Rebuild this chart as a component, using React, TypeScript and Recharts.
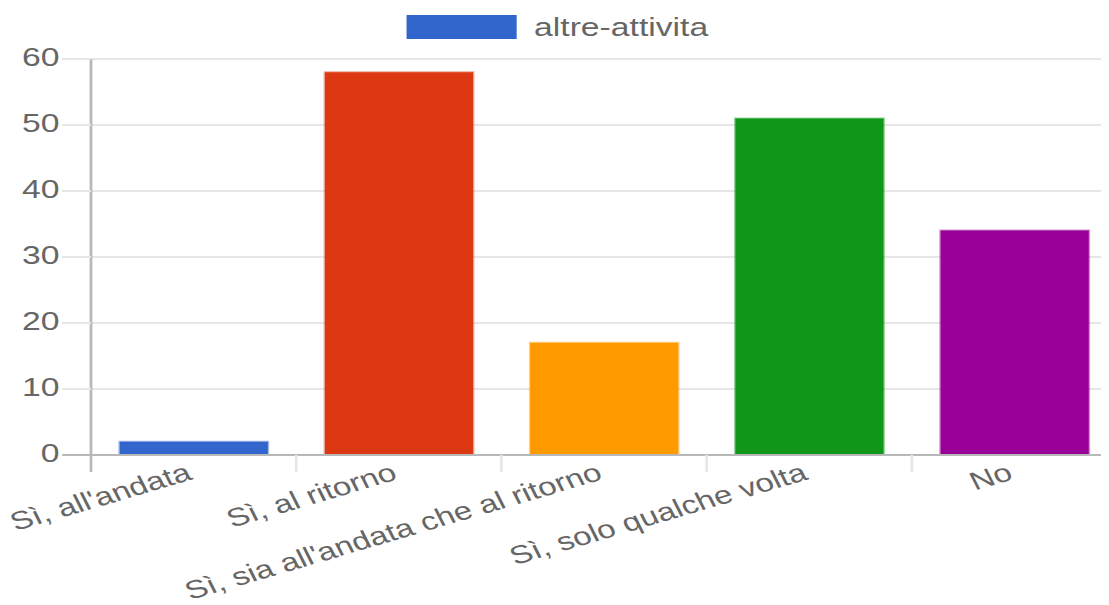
import React from 'react';
import { BarChart, Bar, XAxis, YAxis, CartesianGrid, Legend, Cell } from 'recharts';

const categories = [
  "Sì, all'andata",
  'Sì, al ritorno',
  "Sì, sia all'andata che al ritorno",
  'Sì, solo qualche volta',
  'No',
];
const values = [2, 58, 17, 51, 34];
const barColors = ['#3366cc', '#dc3912', '#ff9900', '#109618', '#990099'];
const yTicks = [0, 10, 20, 30, 40, 50, 60];
const seriesName = 'altre-attivita';
const boundaryTicks = categories.map((_, i) => i).concat([categories.length]);

const data = categories.map((name, i) => ({ name, value: values[i], slot: i + 0.5 }));

const FONT = '"Liberation Sans", Arial, Helvetica, sans-serif';
const TEXT = '#666666';
const LIGHT = '#e6e6e6';
const DARK = '#b8b8b8';
const FS = 25.7;
const XFS = 25.3;
const SX = 1.311;
const ANGLE = -21;

const YTick = (props: any) => {
  const { x, y, payload } = props;
  const dark = payload.value === 0;
  return (
    <g>
      <line x1={x + 2} x2={x + 24} y1={y} y2={y} stroke={dark ? DARK : LIGHT} strokeWidth={2} />
      <text x={x} y={y + 7.5} textAnchor="end" fill={TEXT} fontSize={FS} fontFamily={FONT}>
        {payload.value}
      </text>
    </g>
  );
};

const CatTick = (props: any) => {
  const { x, y, payload, index } = props;
  const off = payload && typeof payload.offset === 'number' ? payload.offset : 0;
  const ty = y + 24;
  return (
    <g>
      {off > 0 && (
        <line x1={x - off} x2={x - off} y1={y} y2={y + 17} stroke={index === 0 ? DARK : LIGHT} strokeWidth={2} />
      )}
      {off > 0 && index === categories.length - 1 && (
        <line x1={x + off} x2={x + off} y1={y} y2={y + 17} stroke={LIGHT} strokeWidth={2} />
      )}
      <text
        x={x}
        y={ty}
        textAnchor="end"
        fill={TEXT}
        fontSize={XFS}
        fontFamily={FONT}
        transform={`rotate(${ANGLE}, ${x}, ${ty})`}
      >
        {payload.value}
      </text>
    </g>
  );
};

const LegendContent = (props: any) => {
  const items = props.payload || [];
  return (
    <div style={{ height: 44, position: 'relative' }}>
      {items.map((it: any, i: number) => (
        <div key={i} style={{ position: 'absolute', left: 303.6, top: 0, display: 'flex', alignItems: 'center', height: 24 }}>
          <div style={{ width: 84.7, height: 24, background: it.color }} />
          <span style={{ marginLeft: 13, fontSize: FS, lineHeight: '24px', color: TEXT, fontFamily: FONT, whiteSpace: 'nowrap' }}>
            {it.value}
          </span>
        </div>
      ))}
    </div>
  );
};

export default function App() {
  return (
    <div style={{ width: 1101, height: 597, overflow: 'hidden', position: 'relative', background: '#fff' }}>
      <div style={{ width: 850, height: 597, transform: `scaleX(${SX})`, transformOrigin: '0 0', fontFamily: FONT }}>
        <BarChart
          width={850}
          height={597}
          data={data}
          margin={{ top: 7, right: 4, bottom: 0, left: 0 }}
          barCategoryGap="14%"
        >
          <XAxis
            xAxisId="a"
            dataKey="slot"
            type="number"
            domain={[0, categories.length]}
            allowDataOverflow
            ticks={boundaryTicks}
            height={0}
            axisLine={false}
            tickLine={false}
            tick={false}
            interval={0}
          />
          <XAxis
            xAxisId="b"
            dataKey="name"
            height={150}
            axisLine={{ stroke: DARK, strokeWidth: 2 }}
            tickLine={false}
            tickSize={0}
            tickMargin={0}
            interval={0}
            tick={<CatTick />}
          />
          <YAxis
            width={63.3}
            domain={[0, 60]}
            ticks={yTicks}
            interval={0}
            axisLine={{ stroke: DARK, strokeWidth: 2 }}
            tickLine={false}
            tickSize={22}
            tickMargin={2}
            tick={<YTick />}
          />
          <CartesianGrid xAxisId="a" stroke={LIGHT} strokeWidth={2} />
          <Legend
            verticalAlign="top"
            align="left"
            content={<LegendContent />}
            wrapperStyle={{ left: 0, top: 7, width: 850, height: 44 }}
          />
          <Bar xAxisId="b" dataKey="value" name={seriesName} fill={barColors[0]} isAnimationActive={false}>
            {data.map((_, i) => (
              <Cell key={i} fill={barColors[i]} stroke={barColors[i]} strokeOpacity={0.45} strokeWidth={2} />
            ))}
          </Bar>
        </BarChart>
      </div>
    </div>
  );
}
